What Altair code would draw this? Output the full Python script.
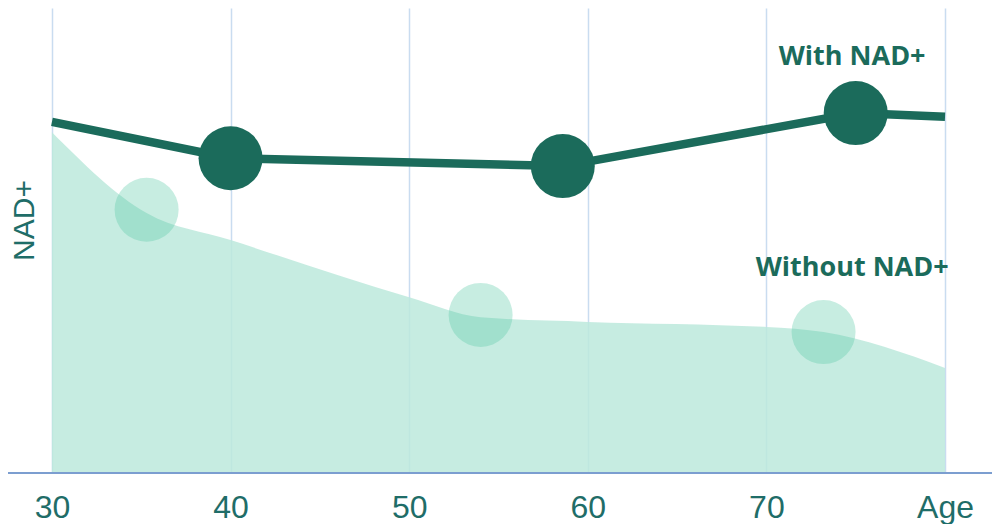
import altair as alt
import pandas as pd

# ---- data ----
with_ages = [30, 40, 58.6, 75.0, 80]
with_vals = [75.5, 67.7, 66.0, 77.4, 76.6]
with_dot_ages = [40, 58.6, 75.0]
with_dot_vals = [67.7, 66.0, 77.4]

without_ages = [30, 35.3, 40, 50, 54, 60, 70, 73.2, 80]
without_vals = [73.3, 55.9, 50.1, 37.8, 33.5, 32.5, 31.4, 30.3, 22.6]
without_dot_ages = [35.3, 54.0, 73.2]
without_dot_vals = [56.6, 34.0, 30.3]

tick_ages = [30, 40, 50, 60, 70, 80]

label_texts = ["With NAD+", "Without NAD+"]
label_ages = [74.8, 74.8]
label_vals = [89.5, 44.1]

DARK = "#1b6b5b"
TEXT = "#1f6d68"

df_with = pd.DataFrame({"age": with_ages, "nad": with_vals})
df_with_dots = pd.DataFrame({"age": with_dot_ages, "nad": with_dot_vals})
df_without = pd.DataFrame({"age": without_ages, "nad": without_vals})
df_without_dots = pd.DataFrame({"age": without_dot_ages, "nad": without_dot_vals})
df_labels = pd.DataFrame({"age": label_ages, "nad": label_vals, "text": label_texts})

xscale = alt.Scale(domain=[27.54, 82.63], nice=False, zero=False)
yscale = alt.Scale(domain=[0, 100], nice=False)

x_axis = alt.Axis(
    values=tick_ages,
    labelExpr="datum.value == 80 ? 'Age' : datum.label",
    grid=True, gridColor="#c9dcf0", gridWidth=1.5,
    ticks=False, domain=False, title=None,
    labelFontSize=32, labelFont="Liberation Sans", labelColor=TEXT,
    labelPadding=34, labelBaseline="middle", labelFlush=False, labelOverlap=False,
)
y_axis = alt.Axis(
    labels=False, ticks=False, domain=False, grid=False,
    title="NAD+", titleFontSize=30, titleFont="Liberation Sans", titleColor=TEXT,
    titleFontWeight="normal", titleX=16, titleY=212, titleAngle=270,
    titleAlign="center", titleBaseline="middle",
)

X = alt.X("age:Q", scale=xscale, axis=x_axis)
Y = alt.Y("nad:Q", scale=yscale, axis=y_axis)

area = alt.Chart(df_without).mark_area(
    color="#bce9dc", opacity=0.85, interpolate="monotone"
).encode(x=X, y=Y)

axis_line = alt.Chart(df_without).mark_rule(color="#7c9ed0", strokeWidth=2).encode(
    y=alt.datum(0, scale=yscale, axis=y_axis),
)

light_dots = alt.Chart(df_without_dots).mark_circle(
    color="#55c8a5", opacity=0.33, size=4096
).encode(x=X, y=Y)

line = alt.Chart(df_with).mark_line(color=DARK, strokeWidth=8.5, strokeCap="butt").encode(
    x=X, y=Y
)

dark_dots = alt.Chart(df_with_dots).mark_circle(color=DARK, opacity=1, size=4096).encode(
    x=X, y=Y
)

labels = alt.Chart(df_labels).mark_text(
    font="Open Sans", fontWeight="bold", fontSize=27, color=DARK,
    align="center", baseline="middle",
).encode(x=X, y=Y, text="text:N")

chart = alt.layer(area, axis_line, light_dots, line, dark_dots, labels).properties(
    width=984, height=465,
    autosize=alt.AutoSizeParams(type="none"),
    padding={"left": 0, "top": 0, "right": 0, "bottom": 51},
    background="white",
).configure_view(stroke=None)

chart.save("out.html", embed_options={"renderer": "svg", "actions": False})
